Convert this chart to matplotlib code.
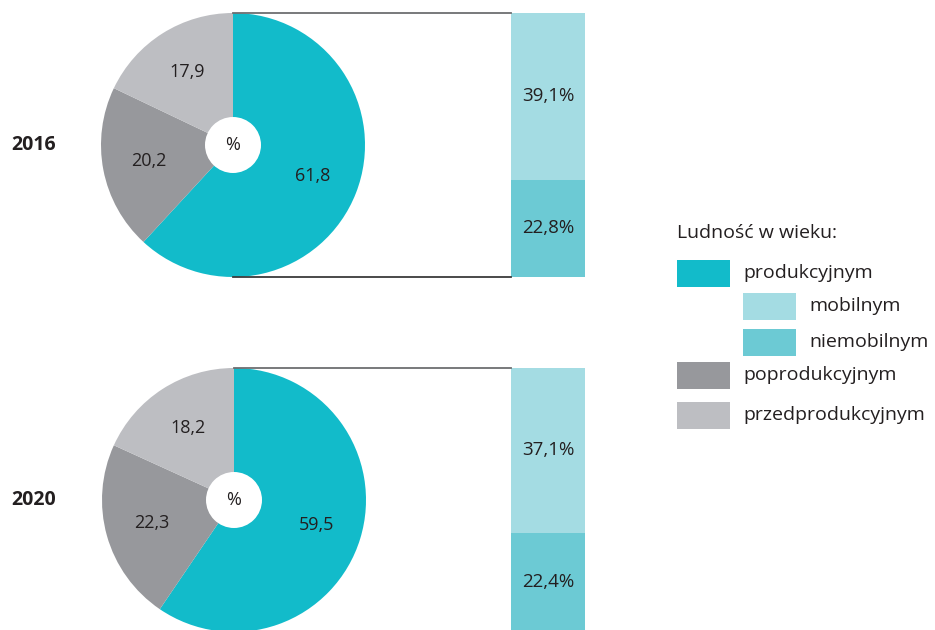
import matplotlib.pyplot as plt
from matplotlib.patches import Circle, Rectangle

plt.rcParams['font.family'] = ['Open Sans', 'DejaVu Sans']

# data
years = ['2016', '2020']
pie_vals = [[61.8, 20.2, 17.9], [59.5, 22.3, 18.2]]
bar_vals = [[22.8, 39.1], [22.4, 37.1]]  # niemobilny (bottom), mobilny (top)

pie_colors = ['#12BBCA', '#97989C', '#BDBEC2']
bar_colors = ['#6CCAD4', '#A4DCE3']

legend_title = 'Ludność w wieku:'
legend_items = [
    ('produkcyjnym', '#12BBCA', 0),
    ('mobilnym', '#A4DCE3', 1),
    ('niemobilnym', '#6CCAD4', 1),
    ('poprodukcyjnym', '#97989C', 0),
    ('przedprodukcyjnym', '#BDBEC2', 0),
]

def fmt(v):
    return f'{v:.1f}'.replace('.', ',')

fig = plt.figure(figsize=(9.35, 6.3), dpi=100)
ax = fig.add_axes([0, 0, 1, 1])

R = 132
centers = [(233, 485), (234, 130)]
bar_x, bar_w = 511, 74
txt = '#231F20'

for (cx, cy), year, pv, bv in zip(centers, years, pie_vals, bar_vals):
    wedges, texts = ax.pie(pv, labels=[fmt(v) for v in pv], colors=pie_colors,
                           startangle=90, counterclock=False, center=(cx, cy),
                           radius=R, labeldistance=0.65, frame=True,
                           wedgeprops=dict(linewidth=0),
                           textprops=dict(fontsize=13, color=txt, ha='center', va='center'))
    ax.add_patch(Circle((cx, cy), 28, facecolor='white', edgecolor='none', zorder=3))
    ax.text(cx, cy, '%', ha='center', va='center', fontsize=13, color=txt, zorder=4)
    ax.text(34, cy, year, ha='center', va='center', fontsize=14, fontweight='bold', color=txt)

    # bar of pie, scaled to the pie diameter
    scale = 2 * R / sum(bv)
    bottom = cy - R
    for v, c in zip(bv, bar_colors):
        h = v * scale
        ax.bar(bar_x, h, width=bar_w, bottom=bottom, color=c, align='edge', linewidth=0)
        ax.text(bar_x + bar_w / 2, bottom + h / 2, fmt(v) + '%', ha='center', va='center',
                fontsize=13.5, color=txt)
        bottom += h

    ax.plot([cx, bar_x], [cy + R, cy + R], color='#6D6E71', lw=1.3, zorder=5)
    ax.plot([cx, bar_x], [cy - R, cy - R], color='#3A3A3C', lw=1.3, zorder=5)

# legend
ax.text(677, 630 - 233, legend_title, ha='left', va='center', fontsize=14, color=txt)
ys = [273, 306, 342, 375, 415]
for (lab, c, ind), y in zip(legend_items, ys):
    x0 = 677 + ind * 66
    ax.add_patch(Rectangle((x0, 630 - y - 13.5), 53, 27, facecolor=c, edgecolor='none'))
    ax.text(x0 + 66, 630 - y, lab, ha='left', va='center', fontsize=14, color=txt)

ax.set_xlim(0, 935)
ax.set_ylim(0, 630)
ax.set_aspect('auto')
ax.axis('off')

fig.savefig('out.png', dpi=100)
